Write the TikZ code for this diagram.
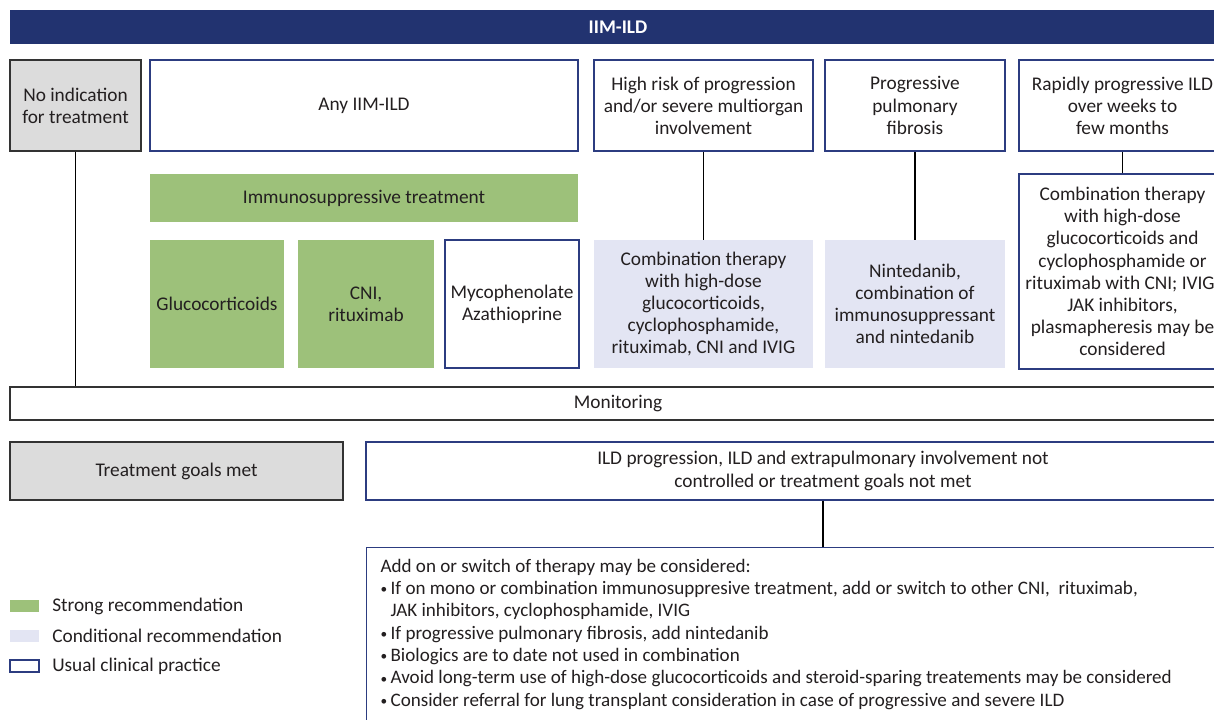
\documentclass[tikz,border=0pt]{standalone}
\usepackage{fontspec}
\setmainfont{Carlito}
\definecolor{navy}{HTML}{223370}
\definecolor{navyline}{HTML}{2C3C80}
\definecolor{sgreen}{HTML}{9DC17A}
\definecolor{lav}{HTML}{E3E5F3}
\definecolor{lgray}{HTML}{DCDCDC}
\definecolor{txt}{HTML}{231F20}
\newcommand\bul{\makebox[7.5pt][l]{\raisebox{0.6pt}{\fontsize{10}{10}\selectfont\textbullet}}}
\begin{document}
\begin{tikzpicture}[x=0.75pt,y=-0.75pt,
  every node/.style={inner sep=0pt, align=center, text=txt,
    font=\fontsize{14.5}{16.6}\selectfont},
  usual/.style={draw=navyline, line width=0.9pt, fill=white},
  strong/.style={fill=sgreen},
  cond/.style={fill=lav},
  graybox/.style={draw=black!80, line width=0.9pt, fill=lgray},
  plainbox/.style={draw=black!80, line width=0.9pt, fill=white},
  conn/.style={draw=black, line width=0.8pt}]
\useasboundingbox (0,0) rectangle (1214,720);
\clip (0,0) rectangle (1214,720);
% title
\node[fill=navy, minimum width=912pt, minimum height=25.5pt, text=white,
  font=\fontsize{14.5}{16.6}\selectfont\bfseries] (title) at (618,27) {IIM-ILD};
% top row
\node[graybox, minimum width=98.25pt, minimum height=68.25pt] (noind) at (75.5,105.5) {No indication\\for treatment};
\node[usual, minimum width=321pt, minimum height=68.25pt] (any) at (364,105.5) {Any IIM-ILD};
\node[usual, minimum width=164.25pt, minimum height=68.25pt] (high) at (703.5,105.5) {High risk of progression\\and/or severe multiorgan\\involvement};
\node[usual, minimum width=135pt, minimum height=68.25pt] (prog) at (915,105.5) {Progressive\\pulmonary\\fibrosis};
\node[usual, minimum width=155.25pt, minimum height=68.25pt] (rapid) at (1122.5,105.5) {Rapidly progressive ILD\\over weeks to\\few months};
% second rows
\node[strong, minimum width=321pt, minimum height=36pt] (immuno) at (364,198) {Immunosuppressive treatment};
\node[strong, minimum width=100.5pt, minimum height=96pt] (gluco) at (217,304) {Glucocorticoids};
\node[strong, minimum width=102pt, minimum height=96pt] (cni) at (366,304) {CNI,\\rituximab};
\node[usual, minimum width=100.5pt, minimum height=96pt] (myco) at (512,304) {Mycophenolate\\Azathioprine};
\node[cond, minimum width=164.25pt, minimum height=96pt] (comb) at (703.5,304) {Combination therapy\\with high-dose\\glucocorticoids,\\cyclophosphamide,\\rituximab, CNI and IVIG};
\node[cond, minimum width=135pt, minimum height=96pt] (nint) at (915,304) {Nintedanib,\\combination of\\immunosuppressant\\and nintedanib};
\node[usual, minimum width=155.25pt, minimum height=146.25pt] (rcomb) at (1122.5,271.5) {Combination therapy\\with high-dose\\glucocorticoids and\\cyclophosphamide or\\rituximab with CNI; IVIG,\\JAK inhibitors,\\plasmapheresis may be\\considered};
% monitoring
\node[plainbox, minimum width=912pt, minimum height=24.75pt] (monitor) at (618,403.5) {Monitoring};
% outcomes
\node[graybox, minimum width=249.75pt, minimum height=43.5pt] (goals) at (176.5,471) {Treatment goals met};
\node[usual, minimum width=685.5pt, minimum height=43.5pt] (notctrl) at (823,471) {ILD progression, ILD and extrapulmonary involvement not\\controlled or treatment goals not met};
\node[usual, anchor=north west, align=left, inner xsep=10.5pt, inner ysep=8.5pt,
  font=\fontsize{14.3}{16.75}\selectfont] (addon) at (366,547)
  {\parbox[t][170pt][t]{664.5pt}{\raggedright
   Add on or switch of therapy may be considered:\\
   \bul If on mono or combination immunosuppresive treatment, add or switch to other CNI,\ \ rituximab,\\
   \hspace*{7.5pt}JAK inhibitors, cyclophosphamide, IVIG\\
   \bul If progressive pulmonary fibrosis, add nintedanib\\
   \bul Biologics are to date not used in combination\\
   \bul Avoid long-term use of high-dose glucocorticoids and steroid-sparing treatements may be considered\\
   \bul Consider referral for lung transplant consideration in case of progressive and severe ILD}};
% connectors
\draw[conn] (noind.south) -- (noind.south |- monitor.north);
\draw[conn] (comb.north) -- (comb.north |- high.south);
\draw[conn] (nint.north) -- (nint.north |- prog.south);
\draw[conn] (rcomb.north) -- (rcomb.north |- rapid.south);
\draw[conn] (notctrl.south) -- (notctrl.south |- addon.north);
% legend
\node[strong, minimum width=21.75pt, minimum height=9pt] (leg1) at (24.5,606) {};
\node[cond, minimum width=21.75pt, minimum height=9pt] (leg2) at (24.5,636) {};
\node[usual, minimum width=21.75pt, minimum height=9pt] (leg3) at (24.5,666) {};
\node[anchor=west] (leg1t) at (52,606) {Strong recommendation};
\node[anchor=west] (leg2t) at (52,636) {Conditional recommendation};
\node[anchor=west] (leg3t) at (52,666) {Usual clinical practice};
\end{tikzpicture}
\end{document}
